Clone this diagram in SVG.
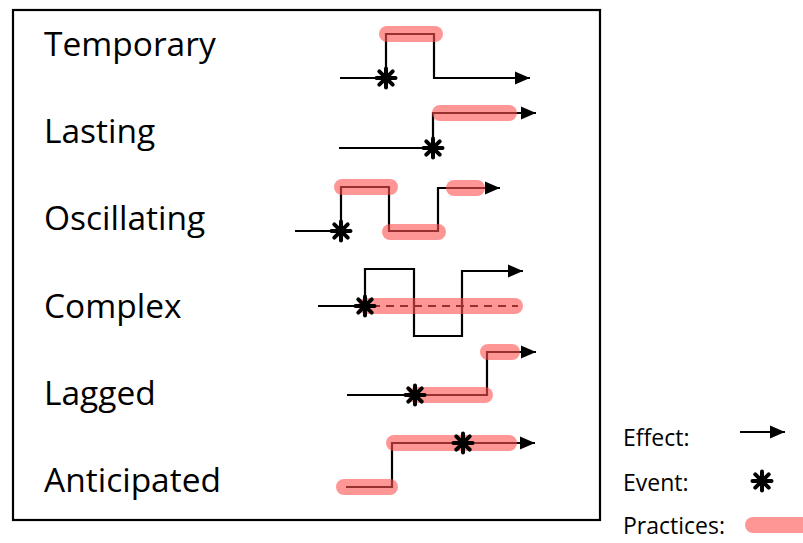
<svg xmlns="http://www.w3.org/2000/svg" xmlns:xlink="http://www.w3.org/1999/xlink" width="803" height="543" viewBox="0 0 803 543">
  <style>
    .lbl { font-family: "Open Sans", "Liberation Sans", sans-serif; font-size: 33.5px; fill: #000; }
    .leg { font-family: "Open Sans", "Liberation Sans", sans-serif; font-size: 23px; fill: #000; }
    .eff { fill: none; stroke: #000; stroke-width: 2.2; }
    .effa { fill: none; stroke: #000; stroke-width: 2.2; marker-end: url(#arr); }
    .dash { fill: none; stroke: #000; stroke-width: 2.2; stroke-dasharray: 8 6; }
    .prac { fill: none; stroke: #ff5050; stroke-opacity: 0.6; stroke-width: 16; stroke-linecap: round; }
  </style>
  <defs>
    <marker id="arr" markerUnits="userSpaceOnUse" markerWidth="16" markerHeight="14" refX="15" refY="7" orient="auto">
      <path d="M0,0.5 L15,7 L0,13.5 z" fill="#000"/>
    </marker>
    <g id="star" stroke="#000" stroke-width="4" stroke-linecap="round">
      <line x1="0" y1="-9.5" x2="0" y2="9.5"/>
      <line x1="-9.5" y1="0" x2="9.5" y2="0"/>
      <line x1="-6.7" y1="-6.7" x2="6.7" y2="6.7"/>
      <line x1="-6.7" y1="6.7" x2="6.7" y2="-6.7"/>
    </g>
  </defs>
  <rect width="803" height="543" fill="#fff"/>
  <rect id="frame" x="13" y="10" width="587" height="510" fill="none" stroke="#000" stroke-width="2.2"/>

  <g id="temporary">
    <text class="lbl" x="44" y="56">Temporary</text>
    <path class="effa" d="M340,78 H386 V34 H434 V78 H530"/>
    <line class="prac" x1="387" y1="34" x2="435" y2="34"/>
    <use xlink:href="#star" x="386" y="78"/>
  </g>

  <g id="lasting">
    <text class="lbl" x="44" y="143">Lasting</text>
    <path class="effa" d="M339,148 H433 V113 H536"/>
    <line class="prac" x1="440" y1="113" x2="509" y2="113"/>
    <use xlink:href="#star" x="433" y="148"/>
  </g>

  <g id="oscillating">
    <text class="lbl" x="44" y="230">Oscillating</text>
    <path class="effa" d="M295,231 H341 V187 H389 V231 H438 V188 H500"/>
    <line class="prac" x1="342" y1="187" x2="390" y2="187"/>
    <line class="prac" x1="390" y1="232" x2="438" y2="232"/>
    <line class="prac" x1="454" y1="188" x2="477" y2="188"/>
    <use xlink:href="#star" x="341" y="231"/>
  </g>

  <g id="complex">
    <text class="lbl" x="44" y="318">Complex</text>
    <path class="effa" d="M318,306 H365 V269 H414 V336 H462 V271 H523"/>
    <path class="dash" d="M372,306 H518"/>
    <line class="prac" x1="366" y1="306" x2="515" y2="306"/>
    <use xlink:href="#star" x="365" y="306"/>
  </g>

  <g id="lagged">
    <text class="lbl" x="44" y="405">Lagged</text>
    <path class="effa" d="M347,395 H487 V352 H536"/>
    <line class="prac" x1="416" y1="395" x2="485" y2="395"/>
    <line class="prac" x1="488" y1="352" x2="512" y2="352"/>
    <use xlink:href="#star" x="415" y="395"/>
  </g>

  <g id="anticipated">
    <text class="lbl" x="44" y="492">Anticipated</text>
    <path class="effa" d="M346,487 H392 V443 H535"/>
    <line class="prac" x1="344" y1="487" x2="390" y2="487"/>
    <line class="prac" x1="394" y1="443" x2="509" y2="443"/>
    <use xlink:href="#star" x="463" y="443"/>
  </g>

  <g id="legend">
    <text class="leg" x="623" y="446">Effect:</text>
    <path class="effa" d="M740,432 H785"/>
    <text class="leg" x="623" y="491">Event:</text>
    <use xlink:href="#star" x="762" y="481"/>
    <text class="leg" x="623" y="534">Practices:</text>
    <line class="prac" x1="753" y1="525" x2="815" y2="525"/>
  </g>
</svg>
